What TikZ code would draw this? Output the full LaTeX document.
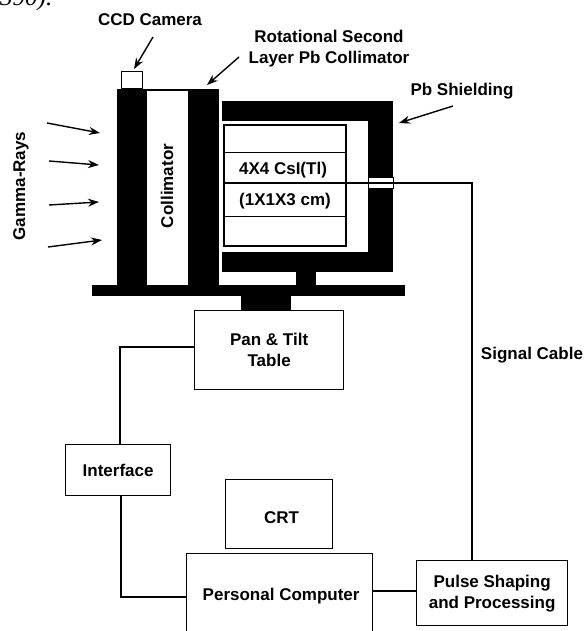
\documentclass[tikz,border=0pt]{standalone}
\usepackage{fontspec}
\setmainfont{Liberation Sans}
\newfontfamily\serifit{Liberation Serif}
\usetikzlibrary{arrows.meta,bending}
\tikzset{
  label text/.style={font=\fontsize{17}{21}\selectfont\bfseries,align=center,inner sep=0pt},
  unit box/.style={draw,line width=1.3pt,inner sep=0pt,anchor=north west,fill=white,font=\fontsize{17}{21}\selectfont\bfseries,align=center},
  pb part/.style={fill=black,draw=none},
  wire/.style={line width=1.3pt},
  pointer/.style={->,line width=1.4pt}
}
\begin{document}
\begin{tikzpicture}[>={Stealth[length=11pt,width=8pt]},x=1pt,y=-1pt]
        \useasboundingbox (0,0) rectangle (586,631);
        \clip (0,0) rectangle (586,631);
        \node [anchor=base west,inner sep=0pt,font=\serifit\itshape\fontsize{25}{25}\selectfont] (page) at (0,6) {390).};
        % collimator stack
        \fill [pb part] (117,89) rectangle (147,285);
        \fill [pb part] (188,89) rectangle (219,285);
        \draw [line width=1.2pt] (147,90) -- (188,90);
        \fill [pb part] (92,285) rectangle (405,296);
        \fill [pb part] (296,272) rectangle (316,285);
        \fill [pb part] (241,296) rectangle (291,310);
        \draw [line width=1pt] (121,89) rectangle (142,72);
        % shielding
        \fill [pb part] (222,101) rectangle (393,121);
        \fill [pb part] (368,101) rectangle (393,272);
        \fill [pb part] (222,252) rectangle (393,272);
        % crystal
        \draw [line width=1.3pt] (224,125) rectangle (346,246);
        \draw [line width=1pt] (224,153) -- (346,153);
        \draw [line width=1pt] (224,216) -- (346,216);
        \fill [white,draw=black,line width=.8pt] (368,177) rectangle (393,188);
        \node [label text] (csi) at (283,170) {4X4 CsI(Tl)};
        \node [label text] (size) at (285,201) {(1X1X3 cm)};
        \node [label text,rotate=90] (collimator) at (167,186) {Collimator};
        \node [label text,rotate=90] (gamma) at (21,186) {Gamma-Rays};
        % labels and pointers
        \node [label text] (ccd) at (150,20) {CCD Camera};
        \node [label text] (rotational) at (329,49) {Rotational Second\\Layer Pb Collimator};
        \node [label text] (shielding) at (462,91) {Pb Shielding};
        \node [label text] (signal) at (532,355) {Signal Cable};
        \draw [pointer] (153,37) -- (134,69);
        \draw [pointer] (239,57) -- (207,85);
        \draw [pointer] (453,106) -- (399,123);
        \draw [pointer] (47,123) -- (100,133);
        \draw [pointer] (49,161) -- (99,165);
        \draw [pointer] (49,205) -- (99,202);
        \draw [pointer] (48,247) -- (102,240);
        % electronics
        \node [unit box,minimum width=149pt,minimum height=79pt] (table) at (194,310) {Pan \& Tilt\\Table};
        \node [unit box,minimum width=105pt,minimum height=51pt] (interface) at (65,444) {Interface};
        \node [unit box,minimum width=107pt,minimum height=69pt,text height=18pt,text depth=0pt] (crt) at (225,479) {\hspace*{5pt}CRT};
        \node [unit box,minimum width=186pt,minimum height=84pt] (pc) at (186,553) {\hspace*{3pt}Personal Computer};
        \node [unit box,minimum width=151pt,minimum height=65pt] (pulse) at (416,560) {Pulse Shaping\\and Processing};
        \coordinate (cablestart) at (224,183);
        \draw [wire] (cablestart) -- (472,183) -- (pulse.north -| 472,0);
        \draw [wire] (interface.north -| 120,0) |- (table.west |- 0,347);
        \draw [wire] (interface.south -| 121,0) |- (pc.west |- 0,597);
        \draw [wire] (pc.east |- 0,591) -- (pulse.west |- 0,591);
    \end{tikzpicture}
\end{document}
